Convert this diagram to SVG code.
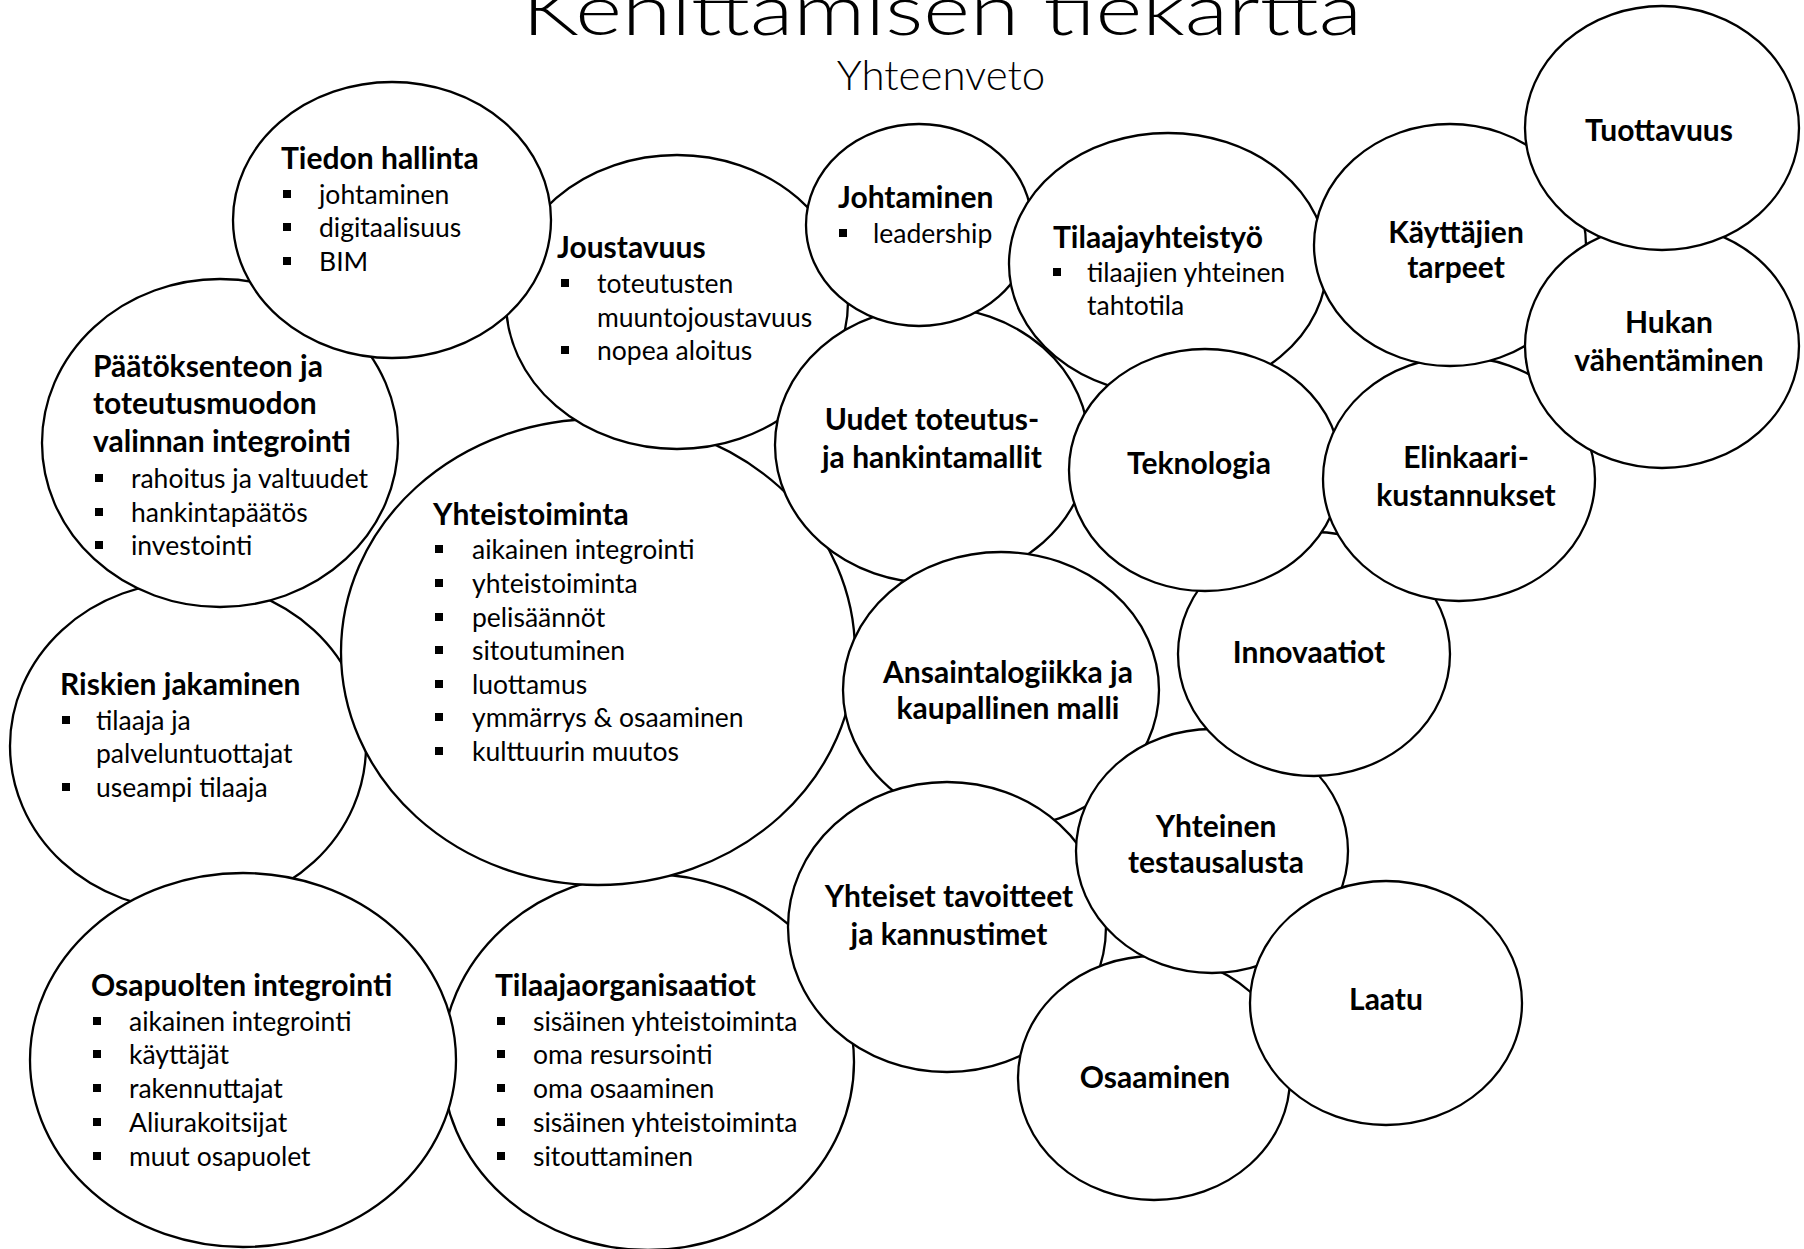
<svg xmlns="http://www.w3.org/2000/svg" width="1804" height="1249" viewBox="0 0 1804 1249">
<style>
  .bg{fill:#fff}
  ellipse{fill:#fff;stroke:#000;stroke-width:2.3}
  text{font-family:Lato,"Liberation Sans",sans-serif;fill:#000}
  .h{font-weight:700;font-size:30px}
  .t{font-weight:400;font-size:26.5px}
  .c{text-anchor:middle}
  .lt{font-weight:300}
  .bu{fill:#000}
</style>
<defs>
  <rect id="bul" class="bu" x="0" y="-14" width="8" height="8"/>
</defs>
<rect class="bg" x="0" y="0" width="1804" height="1249"/>

<g id="title">
  <text class="lt" x="522" y="35" font-size="70" textLength="840" lengthAdjust="spacingAndGlyphs">Kehittämisen tiekartta</text>
  <text class="lt c" x="941" y="90" font-size="42">Yhteenveto</text>
</g>

<g id="tilaajaorganisaatiot">
  <ellipse cx="648" cy="1062" rx="206" ry="188"/>
  <text class="h" x="495" y="996">Tilaajaorganisaatiot</text>
  <use href="#bul" x="497" y="1031"/><text class="t" x="533" y="1031">sisäinen yhteistoiminta</text>
  <use href="#bul" x="497" y="1064"/><text class="t" x="533" y="1064">oma resursointi</text>
  <use href="#bul" x="497" y="1098"/><text class="t" x="533" y="1098">oma osaaminen</text>
  <use href="#bul" x="497" y="1132"/><text class="t" x="533" y="1132">sisäinen yhteistoiminta</text>
  <use href="#bul" x="497" y="1166"/><text class="t" x="533" y="1166">sitouttaminen</text>
</g>

<g id="riskien-jakaminen">
  <ellipse cx="188" cy="746" rx="178" ry="164"/>
  <text class="h" x="60" y="695">Riskien jakaminen</text>
  <use href="#bul" x="62" y="730"/><text class="t" x="96" y="730">tilaaja ja</text>
  <text class="t" x="96" y="763">palveluntuottajat</text>
  <use href="#bul" x="62" y="797"/><text class="t" x="96" y="797">useampi tilaaja</text>
</g>

<g id="osapuolten-integrointi">
  <ellipse cx="243" cy="1060" rx="213" ry="187"/>
  <text class="h" x="91" y="996">Osapuolten integrointi</text>
  <use href="#bul" x="93" y="1031"/><text class="t" x="129" y="1031">aikainen integrointi</text>
  <use href="#bul" x="93" y="1064"/><text class="t" x="129" y="1064">käyttäjät</text>
  <use href="#bul" x="93" y="1098"/><text class="t" x="129" y="1098">rakennuttajat</text>
  <use href="#bul" x="93" y="1132"/><text class="t" x="129" y="1132">Aliurakoitsijat</text>
  <use href="#bul" x="93" y="1166"/><text class="t" x="129" y="1166">muut osapuolet</text>
</g>

<g id="yhteistoiminta">
  <ellipse cx="598" cy="652" rx="257" ry="233"/>
  <text class="h" x="433" y="525">Yhteistoiminta</text>
  <use href="#bul" x="435" y="559"/><text class="t" x="472" y="559">aikainen integrointi</text>
  <use href="#bul" x="435" y="593"/><text class="t" x="472" y="593">yhteistoiminta</text>
  <use href="#bul" x="435" y="627"/><text class="t" x="472" y="627">pelisäännöt</text>
  <use href="#bul" x="435" y="660"/><text class="t" x="472" y="660">sitoutuminen</text>
  <use href="#bul" x="435" y="694"/><text class="t" x="472" y="694">luottamus</text>
  <use href="#bul" x="435" y="727"/><text class="t" x="472" y="727">ymmärrys &amp; osaaminen</text>
  <use href="#bul" x="435" y="761"/><text class="t" x="472" y="761">kulttuurin muutos</text>
</g>

<g id="paatoksenteon-integrointi">
  <ellipse cx="220" cy="443" rx="178" ry="164"/>
  <text class="h" x="93" y="377">Päätöksenteon ja</text>
  <text class="h" x="93" y="414">toteutusmuodon</text>
  <text class="h" x="93" y="452">valinnan integrointi</text>
  <use href="#bul" x="95" y="488"/><text class="t" x="131" y="488">rahoitus ja valtuudet</text>
  <use href="#bul" x="95" y="522"/><text class="t" x="131" y="522">hankintapäätös</text>
  <use href="#bul" x="95" y="555"/><text class="t" x="131" y="555">investointi</text>
</g>

<g id="joustavuus">
  <ellipse cx="677" cy="302" rx="171" ry="147"/>
  <text class="h" x="557" y="258">Joustavuus</text>
  <use href="#bul" x="561" y="293"/><text class="t" x="597" y="293">toteutusten</text>
  <text class="t" x="597" y="327">muuntojoustavuus</text>
  <use href="#bul" x="561" y="360"/><text class="t" x="597" y="360">nopea aloitus</text>
</g>

<g id="tiedon-hallinta">
  <ellipse cx="392" cy="220" rx="159" ry="138"/>
  <text class="h" x="281" y="169">Tiedon hallinta</text>
  <use href="#bul" x="283" y="204"/><text class="t" x="319" y="204">johtaminen</text>
  <use href="#bul" x="283" y="237"/><text class="t" x="319" y="237">digitaalisuus</text>
  <use href="#bul" x="283" y="271"/><text class="t" x="319" y="271">BIM</text>
</g>

<g id="uudet-mallit">
  <ellipse cx="932" cy="445" rx="157" ry="138"/>
  <text class="h c" x="932" y="430">Uudet toteutus-</text>
  <text class="h c" x="932" y="468">ja hankintamallit</text>
</g>

<g id="johtaminen">
  <ellipse cx="919" cy="225" rx="113" ry="101"/>
  <text class="h" x="838" y="208">Johtaminen</text>
  <use href="#bul" x="839" y="243"/><text class="t" x="873" y="243">leadership</text>
</g>

<g id="tilaajayhteistyo">
  <ellipse cx="1168" cy="264" rx="159" ry="131"/>
  <text class="h" x="1053" y="248">Tilaajayhteistyö</text>
  <use href="#bul" x="1053" y="282"/><text class="t" x="1087" y="282">tilaajien yhteinen</text>
  <text class="t" x="1087" y="315">tahtotila</text>
</g>

<g id="ansaintalogiikka">
  <ellipse cx="1001" cy="690" rx="158" ry="138"/>
  <text class="h c" x="1008" y="683">Ansaintalogiikka ja</text>
  <text class="h c" x="1008" y="719">kaupallinen malli</text>
</g>

<g id="yhteiset-tavoitteet">
  <ellipse cx="947" cy="927" rx="159" ry="145"/>
  <text class="h c" x="949" y="907">Yhteiset tavoitteet</text>
  <text class="h c" x="949" y="945">ja kannustimet</text>
</g>

<g id="osaaminen">
  <ellipse cx="1154" cy="1078" rx="136" ry="122"/>
  <text class="h c" x="1155" y="1088">Osaaminen</text>
</g>

<g id="yhteinen-testausalusta">
  <ellipse cx="1212" cy="851" rx="136" ry="122"/>
  <text class="h c" x="1216" y="837">Yhteinen</text>
  <text class="h c" x="1216" y="873">testausalusta</text>
</g>

<g id="laatu">
  <ellipse cx="1386" cy="1003" rx="136" ry="122"/>
  <text class="h c" x="1386" y="1010">Laatu</text>
</g>

<g id="innovaatiot">
  <ellipse cx="1314" cy="654" rx="136" ry="122"/>
  <text class="h c" x="1309" y="663">Innovaatiot</text>
</g>

<g id="teknologia">
  <ellipse cx="1205" cy="470" rx="136" ry="121"/>
  <text class="h c" x="1199" y="474">Teknologia</text>
</g>

<g id="elinkaarikustannukset">
  <ellipse cx="1459" cy="479" rx="136" ry="122"/>
  <text class="h c" x="1466" y="468">Elinkaari-</text>
  <text class="h c" x="1466" y="506">kustannukset</text>
</g>

<g id="kayttajien-tarpeet">
  <ellipse cx="1450" cy="245" rx="136" ry="121"/>
  <text class="h c" x="1456" y="243">Käyttäjien</text>
  <text class="h c" x="1456" y="278">tarpeet</text>
</g>

<g id="hukan-vahentaminen">
  <ellipse cx="1662" cy="346" rx="137" ry="122"/>
  <text class="h c" x="1669" y="333">Hukan</text>
  <text class="h c" x="1669" y="371">vähentäminen</text>
</g>

<g id="tuottavuus">
  <ellipse cx="1662" cy="128" rx="137" ry="122"/>
  <text class="h c" x="1659" y="141">Tuottavuus</text>
</g>
</svg>
